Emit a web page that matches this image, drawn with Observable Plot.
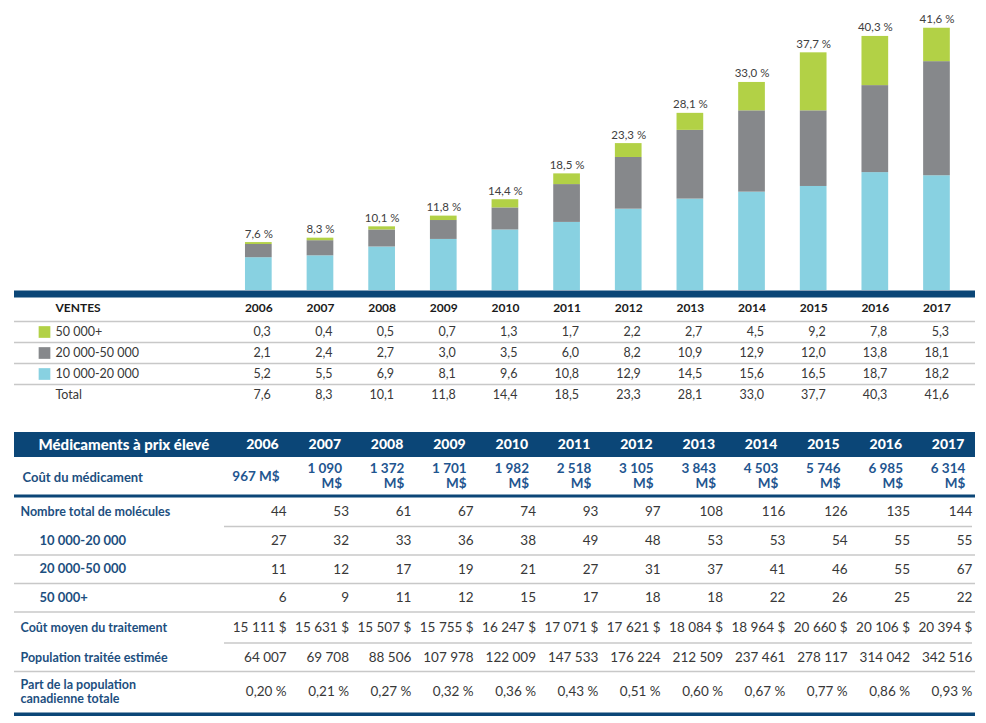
<!DOCTYPE html>
<html><head><meta charset="utf-8">
<script src="https://cdn.jsdelivr.net/npm/d3@7"></script>
<script src="https://cdn.jsdelivr.net/npm/@observablehq/plot@0.6"></script>
<style>
body{margin:0;background:#fff;}
#chart{width:986px;}
#chart svg{display:block;}
</style></head><body><div id="chart"></div>
<script>
// ---------- DATA ----------
const years = [2006,2007,2008,2009,2010,2011,2012,2013,2014,2015,2016,2017];
const seriesNames = ["10 000-20 000","20 000-50 000","50 000+"];
const sales10to20 = [5.2,5.5,6.9,8.1,9.6,10.8,12.9,14.5,15.6,16.5,18.7,18.2];
const sales20to50 = [2.1,2.4,2.7,3.0,3.5,6.0,8.2,10.9,12.9,12.0,13.8,18.1];
const sales50plus = [0.3,0.4,0.5,0.7,1.3,1.7,2.2,2.7,4.5,9.2,7.8,5.3];
const salesTotal  = [7.6,8.3,10.1,11.8,14.4,18.5,23.3,28.1,33.0,37.7,40.3,41.6];
const drugCostM   = [967,1090,1372,1701,1982,2518,3105,3843,4503,5746,6985,6314];
const molTotal    = [44,53,61,67,74,93,97,108,116,126,135,144];
const mol10to20   = [27,32,33,36,38,49,48,53,53,54,55,55];
const mol20to50   = [11,12,17,19,21,27,31,37,41,46,55,67];
const mol50plus   = [6,9,11,12,15,17,18,18,22,26,25,22];
const avgCost     = [15111,15631,15507,15755,16247,17071,17621,18084,18964,20660,20106,20394];
const population  = [64007,69708,88506,107978,122009,147533,176224,212509,237461,278117,314042,342516];
const popShare    = [0.20,0.21,0.27,0.32,0.36,0.43,0.51,0.60,0.67,0.77,0.86,0.93];

// ---------- STYLE ----------
const COLORS = ["#88d1e1","#86888b","#b2d146"];
const NAVY = "#0b4677";
const LABEL_BLUE = "#1d4f80";
const COST_BLUE = "#1f5690";
const TXT = "#383838";
const GRID = "#c8c8c8";
const FONT = "Lato, 'Open Sans', sans-serif";

const fr = d3.formatLocale({decimal: ",", thousands: "\u00a0", grouping: [3], currency: ["", "\u00a0$"]});
const f1 = fr.format(".1f");
const fInt = fr.format(",d");
const f2 = fr.format(".2f");

// ---------- BAR CHART ----------
const salesLong = years.flatMap((year, i) => [
  {year, series: seriesNames[0], value: sales10to20[i]},
  {year, series: seriesNames[1], value: sales20to50[i]},
  {year, series: seriesNames[2], value: sales50plus[i]}
]);
const totals = years.map((year, i) => ({year, total: salesTotal[i]}));

const xBand = {type: "band", domain: years, range: [227.5, 967.3], paddingInner: 0.567, paddingOuter: 0.2835, align: 0.5, round: false, axis: null};

const bars = Plot.plot({
  width: 986, height: 298, marginTop: 0, marginBottom: 8, marginLeft: 14, marginRight: 11,
  style: {fontFamily: FONT, background: "white"},
  x: xBand,
  y: {domain: [0, 46], axis: null},
  color: {domain: seriesNames, range: COLORS},
  marks: [
    Plot.barY(salesLong, {x: "year", y: "value", fill: "series", order: seriesNames}),
    Plot.text(totals, {x: "year", y: "total", text: d => f1(d.total) + "\u00a0%", lineAnchor: "bottom", dy: -5, fontSize: 11.5, fill: "#404040"}),
    Plot.ruleY([0], {stroke: NAVY, strokeWidth: 7, dy: 3.5})
  ]
});

// ---------- TABLE 1 (VENTES) ----------
const t1Rows = [
  {label: "50 000+", series: seriesNames[2], values: sales50plus},
  {label: "20 000-50 000", series: seriesNames[1], values: sales20to50},
  {label: "10 000-20 000", series: seriesNames[0], values: sales10to20},
  {label: "Total", series: null, values: salesTotal}
];
const T1 = {headerH: 23, rowH: 21, headerY: 10};
const t1Center = i => T1.headerH + T1.rowH * i + T1.rowH / 2;
const t1Cells = t1Rows.flatMap((r, ri) => years.map((year, j) => ({year, y: t1Center(ri), text: f1(r.values[j])})));
const t1RowPos = t1Rows.map((r, ri) => ({...r, y: t1Center(ri)}));
const t1Seps = t1Rows.map((r, ri) => ({y: T1.headerH + T1.rowH * ri}));

const table1 = Plot.plot({
  width: 986, height: 112, marginTop: 0, marginBottom: 0, marginLeft: 14, marginRight: 11,
  style: {fontFamily: FONT, background: "white"},
  x: xBand,
  y: {type: "identity", axis: null},
  color: {domain: seriesNames, range: COLORS},
  marks: [
    Plot.ruleY(t1Seps, {y: "y", stroke: GRID, strokeWidth: 1.3}),
    Plot.text(["VENTES"], {frameAnchor: "left", dx: 41, y: () => T1.headerY, text: d => d, textAnchor: "start", fontWeight: "bold", fontSize: 12, fill: "#1a1a1a"}),
    Plot.text(years, {x: d => d, y: () => T1.headerY, text: d => String(d), fontWeight: "bold", fontSize: 12, fill: "#1a1a1a"}),
    Plot.dot(t1RowPos.filter(r => r.series), {frameAnchor: "left", dx: 30, y: "y", fill: "series", symbol: "square", r: 6.6}),
    Plot.text(t1RowPos, {frameAnchor: "left", dx: 41, y: "y", text: "label", textAnchor: "start", fontSize: 12.5, fill: TXT}),
    Plot.text(t1Cells, {x: "year", y: "y", text: "text", textAnchor: "end", dx: 12, fontSize: 12.5, fill: TXT})
  ]
});

// ---------- TABLE 2 (MÉDICAMENTS À PRIX ÉLEVÉ) ----------
const t2Rows = [
  {label: "Nombre total de molécules", level: 0, values: molTotal, fmt: fInt},
  {label: "10 000-20 000", level: 1, values: mol10to20, fmt: fInt},
  {label: "20 000-50 000", level: 1, values: mol20to50, fmt: fInt},
  {label: "50 000+", level: 1, values: mol50plus, fmt: fInt},
  {label: "Coût moyen du traitement", level: 0, values: avgCost, fmt: d => fInt(d) + "\u00a0$"},
  {label: "Population traitée estimée", level: 0, values: population, fmt: fInt},
  {label: "Part de la population\ncanadienne totale", level: 0, values: popShare, fmt: d => f2(d) + "\u00a0%"}
];
// layout: row heights and separator kind after each row
const T2 = {headerTop: 22, headerH: 25, costH: 37, costRule: 3, endRule: 3.5};
const t2Heights = [29, 28.5, 28.5, 28.5, 31, 28.5, 41];
const t2SepKind = ["partial", "full", "full", "full", "partial", "full", null];

const headerMid = T2.headerTop + T2.headerH / 2;
const costTop = T2.headerTop + T2.headerH;
const costMid = costTop + T2.costH / 2;
const costRuleY = costTop + T2.costH + T2.costRule / 2;
let cursor = costTop + T2.costH + T2.costRule;
const t2Pos = t2Rows.map((r, i) => {
  const top = cursor;
  cursor += t2Heights[i];
  return {...r, y: (top + cursor) / 2, bottom: cursor, sep: t2SepKind[i]};
});
const endRuleY = cursor + T2.endRule / 2;

const t2Cells = t2Pos.flatMap(r => years.map((year, j) => ({year, y: r.y, text: r.fmt(r.values[j])})));
const costCells = years.map((year, j) => ({year, text: drugCostM[j] >= 1000 ? fInt(drugCostM[j]) + "\nM$" : fInt(drugCostM[j]) + "\u00a0M$"}));

const x2 = {type: "band", domain: years, range: [224, 972], padding: 0, round: false, axis: null};

const table2 = Plot.plot({
  width: 986, height: 313, marginTop: 0, marginBottom: 0, marginLeft: 14, marginRight: 11,
  style: {fontFamily: FONT, background: "white"},
  x: x2,
  y: {type: "identity", axis: null},
  marks: [
    Plot.rect([0], {y1: () => T2.headerTop, y2: () => T2.headerTop + T2.headerH, fill: NAVY}),
    Plot.text(["Médicaments à prix élevé"], {frameAnchor: "left", dx: 24, y: () => headerMid, text: d => d, textAnchor: "start", fontWeight: 900, fontSize: 15, fill: "white"}),
    Plot.text(years, {x: d => d, y: () => headerMid, text: d => String(d), textAnchor: "end", dx: 23, fontWeight: 900, fontSize: 14, fill: "white"}),
    Plot.text(["Coût du médicament"], {frameAnchor: "left", dx: 8, y: () => costMid, dy: 2, text: d => d, textAnchor: "start", fontWeight: "bold", fontSize: 13, fill: LABEL_BLUE}),
    Plot.text(costCells, {x: "year", y: () => costMid, text: "text", textAnchor: "end", dx: 24, lineHeight: 1.05, fontWeight: "bold", fontSize: 13.5, fill: COST_BLUE}),
    Plot.ruleY([0], {y: () => costRuleY, stroke: NAVY, strokeWidth: T2.costRule}),
    Plot.ruleY(t2Pos.filter(r => r.sep === "full"), {y: "bottom", stroke: GRID, strokeWidth: 1.3}),
    Plot.ruleY(t2Pos.filter(r => r.sep === "partial"), {y: "bottom", x1: () => years[0], x2: () => years[years.length - 1], stroke: GRID, strokeWidth: 1.3}),
    Plot.text(t2Pos.filter(r => r.level === 0), {frameAnchor: "left", dx: 6, y: "y", text: "label", textAnchor: "start", lineHeight: 1.12, fontWeight: "bold", fontSize: 12.5, fill: LABEL_BLUE}),
    Plot.text(t2Pos.filter(r => r.level === 1), {frameAnchor: "left", dx: 25, y: "y", text: "label", textAnchor: "start", fontWeight: "bold", fontSize: 13, fill: LABEL_BLUE}),
    Plot.text(t2Cells, {x: "year", y: "y", text: "text", textAnchor: "end", dx: 31, fontSize: 13.5, fill: TXT}),
    Plot.ruleY([0], {y: () => endRuleY, stroke: NAVY, strokeWidth: T2.endRule})
  ]
});

document.getElementById("chart").append(bars, table1, table2);
</script>
</body></html>
